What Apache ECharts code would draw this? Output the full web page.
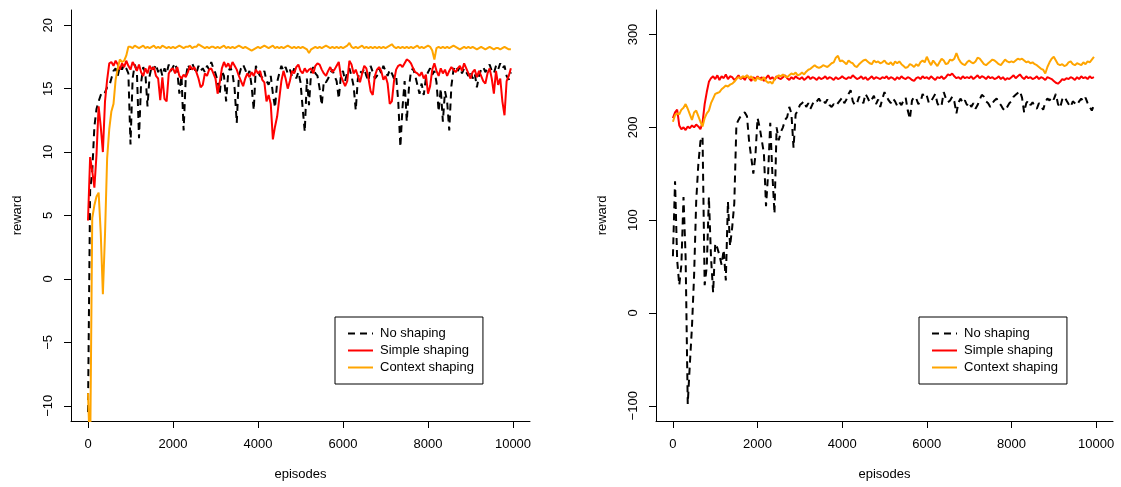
<!DOCTYPE html>
<html>
<head>
<meta charset="utf-8">
<script src="https://cdn.jsdelivr.net/npm/echarts@6/dist/echarts.min.js"></script>
<style>html,body{margin:0;padding:0;background:#fff;}#c{width:1121px;height:487px;}</style>
</head>
<body>
<div id="c"></div>
<script>
// x positions of the samples (episodes), every 50 episodes
const episodes = Array.from({length: 200}, (_, i) => i * 50);
const seriesNames = ['No shaping', 'Simple shaping', 'Context shaping'];
const xTicks = [0, 2000, 4000, 6000, 8000, 10000];
const yTicksLeft = [-10, -5, 0, 5, 10, 15, 20];
const yTicksRight = [-100, 0, 100, 200, 300];

// ---- left panel ----
const noShapingL = [
-10.5,7.0,8.5,12.0,13.4,14.0,14.5,14.8,14.7,15.1,15.2,15.8,16.4,16.6,16.0,16.8,16.5,16.9,16.6,16.2,
10.6,15.8,16.9,16.4,11.1,15.5,16.7,16.2,13.6,16.0,16.8,16.5,16.9,16.3,16.7,16.0,16.6,16.2,16.9,16.4,
16.7,17.0,16.4,14.6,16.0,11.7,15.8,16.9,16.5,17.0,16.6,16.2,16.8,16.4,16.6,16.3,16.8,16.5,17.1,16.6,
16.2,15.6,14.6,16.4,16.0,14.0,16.3,16.7,16.2,15.0,12.3,16.0,16.6,16.9,16.5,16.0,16.4,15.2,13.3,16.8,
16.3,16.0,15.9,16.4,15.6,15.3,16.0,14.6,13.5,15.5,16.2,16.8,16.4,16.7,16.2,16.5,16.0,16.6,15.8,16.3,
15.5,13.5,11.6,15.8,13.7,16.3,16.7,16.2,16.0,15.0,13.7,15.6,15.5,15.8,16.2,16.5,16.0,15.6,14.2,16.0,
16.4,15.6,16.3,16.6,16.0,15.2,13.3,15.8,16.4,16.2,16.6,16.0,15.6,16.8,16.3,15.8,16.0,16.6,16.2,16.8,
16.4,16.0,16.5,16.2,15.8,16.0,14.0,10.4,13.5,15.6,12.4,15.0,16.4,16.6,16.0,15.3,14.6,15.4,14.5,15.8,
16.3,16.6,16.1,16.4,15.5,13.2,15.0,12.4,14.8,14.0,11.7,15.2,16.5,16.8,16.4,16.7,16.2,16.6,16.3,16.0,
16.4,15.8,16.2,15.1,16.0,16.5,16.7,16.3,16.6,16.9,16.4,16.2,16.8,16.5,17.0,16.6,16.8,16.0,15.7,16.3];
const simpleL = [
4.6,9.6,8.5,7.2,9.8,13.6,12.0,10.0,14.0,15.7,17.0,17.1,16.8,17.2,16.9,16.5,17.0,16.7,17.2,16.8,
16.5,17.1,16.8,16.4,16.9,16.3,16.0,16.6,16.2,16.8,16.5,16.7,16.0,15.8,14.1,15.9,14.2,14.0,16.2,16.5,
16.6,16.2,16.7,16.0,15.8,16.1,15.9,16.3,16.8,16.5,16.7,16.3,15.8,15.1,15.3,16.2,16.0,16.5,16.6,16.2,
15.8,14.6,15.5,16.6,17.1,16.7,17.0,16.6,17.1,16.8,16.5,16.0,15.6,15.2,15.8,16.2,15.9,16.3,16.0,16.5,
16.2,16.4,15.7,15.5,14.0,14.5,13.8,11.0,12.0,12.8,14.2,15.6,16.4,15.8,15.0,15.6,16.4,16.2,16.7,16.9,
16.4,16.2,16.6,16.3,16.5,16.6,16.2,16.8,17.0,16.9,16.5,16.2,16.0,16.4,16.7,16.3,16.5,16.8,17.1,16.0,
15.6,15.2,15.6,17.2,16.9,16.2,16.5,16.0,15.5,16.2,16.8,16.6,15.8,14.8,14.5,16.0,16.5,16.7,16.4,15.7,
16.0,15.4,13.8,14.0,15.6,16.5,16.8,16.9,16.7,17.0,17.3,17.2,17.0,16.6,16.3,16.2,16.0,16.3,15.8,16.1,
14.6,15.2,16.5,17.0,16.4,16.0,16.6,16.2,16.5,16.0,16.4,16.7,16.5,16.3,16.6,16.8,16.4,17.0,16.6,16.2,
15.8,16.3,16.5,15.9,16.4,16.0,15.6,15.4,16.2,16.6,15.8,14.6,16.4,15.3,15.8,14.0,12.9,15.6,16.0,16.6];
const contextL = [
-9.0,-14.0,4.8,5.8,6.5,6.8,3.6,-1.2,3.5,9.5,11.8,13.2,13.8,15.7,16.6,17.3,17.1,17.2,17.6,18.3,
18.3,18.2,18.4,18.3,18.2,18.3,18.4,18.2,18.3,18.2,18.3,18.4,18.2,18.3,18.2,18.4,18.3,18.2,18.3,18.2,
18.3,18.2,18.3,18.4,18.3,18.2,18.3,18.3,18.4,18.2,18.3,18.3,18.5,18.4,18.3,18.2,18.3,18.2,18.3,18.3,
18.2,18.3,18.2,18.3,18.4,18.2,18.3,18.2,18.3,18.2,18.3,18.4,18.3,18.2,18.3,18.2,18.1,18.0,18.1,18.2,
18.3,18.2,18.3,18.4,18.3,18.2,18.3,18.4,18.2,18.3,18.2,18.3,18.2,18.3,18.4,18.3,18.2,18.3,18.2,18.3,
18.2,18.3,18.2,18.1,17.8,18.1,18.2,18.3,18.2,18.3,18.2,18.3,18.4,18.3,18.2,18.3,18.2,18.3,18.2,18.3,
18.2,18.3,18.4,18.6,18.3,18.2,18.3,18.2,18.3,18.4,18.2,18.3,18.2,18.3,18.2,18.3,18.2,18.3,18.2,18.3,
18.2,18.3,18.4,18.5,18.3,18.2,18.3,18.2,18.3,18.2,18.3,18.2,18.3,18.2,18.3,18.4,18.2,18.3,18.2,18.3,
18.4,18.3,18.0,17.3,18.2,18.3,18.2,18.3,18.2,18.3,18.2,18.3,18.4,18.3,18.2,18.1,18.2,18.3,18.2,18.3,
18.2,18.3,18.2,18.1,18.2,18.3,18.2,18.1,18.2,18.3,18.2,18.1,18.2,18.2,18.1,18.2,18.3,18.2,18.1,18.1];

// ---- right panel ----
const noShapingR = [
61,142,57,30,52,125,60,-98,-55,-15,40,120,160,185,190,30,50,125,60,22,
75,70,62,52,68,35,120,72,92,118,203,208,212,215,216,212,185,168,150,170,
210,200,186,172,115,150,205,150,107,200,186,195,200,208,211,222,215,178,214,218,
224,226,228,222,226,220,225,229,228,231,227,229,226,230,224,222,225,223,226,229,
232,226,230,236,240,228,224,226,233,230,226,236,232,227,230,234,225,230,222,231,
238,233,229,226,231,228,223,227,224,229,232,218,209,229,233,231,225,227,236,232,
234,226,228,232,236,226,222,224,238,231,227,229,233,228,215,227,231,226,229,224,
227,222,226,220,224,230,235,233,228,226,222,226,229,231,227,224,220,218,222,226,
228,233,235,237,239,232,216,226,229,224,227,222,220,226,223,219,227,231,229,233,
230,236,225,221,230,233,229,225,222,228,226,224,228,231,228,232,226,222,218,224];
const simpleR = [
210,216,219,202,198,200,197,201,199,202,200,203,201,198,205,225,238,249,253,255,
252,256,251,255,253,257,252,255,254,251,253,256,252,254,251,256,253,250,254,252,
255,252,254,250,253,256,252,254,251,255,253,252,254,256,253,251,254,252,255,253,
252,254,251,253,255,252,254,253,251,254,252,253,255,252,254,253,251,254,252,253,
255,253,252,254,253,256,254,252,253,255,252,254,251,253,255,252,254,253,252,254,
253,255,252,254,253,251,254,252,255,253,252,254,253,251,250,253,254,252,255,253,
254,252,255,253,251,254,253,255,252,254,257,256,258,255,253,254,252,255,253,254,
253,255,252,254,256,253,255,254,252,255,253,254,252,253,255,252,254,251,253,252,
254,256,253,255,257,254,252,255,253,254,252,253,255,252,254,253,251,254,253,252,
250,248,247,249,252,251,253,252,254,253,251,254,252,255,253,254,252,255,253,254];
const contextR = [
206,213,215,214,219,221,225,220,214,208,216,218,212,206,201,210,215,218,226,231,
236,237,238,241,243,245,244,246,247,249,252,254,253,255,254,256,253,255,252,250,
254,252,251,254,250,248,249,247,252,254,256,255,257,255,254,256,258,257,259,256,
257,259,257,260,262,263,265,267,265,264,265,267,266,265,267,269,270,275,277,271,
272,270,268,272,270,269,266,265,268,270,272,273,271,269,268,272,270,271,269,270,
272,269,268,270,267,271,269,271,268,266,264,265,268,267,265,268,266,270,272,270,
276,271,267,272,269,266,270,274,272,268,269,273,272,274,280,274,270,268,267,270,
272,270,269,271,275,274,271,268,267,269,271,273,272,270,268,267,270,273,271,270,
271,270,272,274,273,274,272,270,271,269,270,268,267,265,263,262,258,265,270,274,
276,272,268,267,268,266,267,270,271,268,267,269,268,267,270,268,271,270,273,276];

const FONT = '"Liberation Sans", Arial, Helvetica, sans-serif';
const minus = v => String(v).replace('-', '\u2212');
const pair = arr => episodes.map((e, i) => [e, arr[i]]);

function xAxis(gridIndex) {
  return {
    type: 'value', gridIndex, min: -400, max: 10400,
    name: 'episodes', nameLocation: 'middle', nameGap: 47,
    nameTextStyle: {color: '#000', fontSize: 13, fontFamily: FONT},
    axisLine: {show: true, onZero: false, lineStyle: {color: '#000', width: 1}},
    axisTick: {show: true, length: 7, customValues: xTicks, lineStyle: {color: '#000'}},
    axisLabel: {show: true, customValues: xTicks, margin: 17, color: '#000', fontSize: 13, fontFamily: FONT, formatter: v => String(v)},
    splitLine: {show: false}
  };
}
function yAxis(gridIndex, min, max, ticks) {
  return {
    type: 'value', gridIndex, min, max,
    name: 'reward', nameLocation: 'middle', nameGap: 47, nameRotate: 90,
    nameTextStyle: {color: '#000', fontSize: 13, fontFamily: FONT},
    axisLine: {show: true, onZero: false, lineStyle: {color: '#000', width: 1}},
    axisTick: {show: true, length: 7, customValues: ticks, lineStyle: {color: '#000'}},
    axisLabel: {show: true, customValues: ticks, rotate: 90, margin: 16, color: '#000', fontSize: 13, fontFamily: FONT, formatter: minus},
    splitLine: {show: false}
  };
}
const colors = ['#000000', '#ff0000', '#ffa500'];
function lineSeries(name, idx, data, ci) {
  return {
    type: 'line', name, xAxisIndex: idx, yAxisIndex: idx,
    data: pair(data), showSymbol: false, symbol: 'none', clip: true,
    lineStyle: {color: colors[ci], width: 2, type: ci === 0 ? [7, 5] : 'solid'},
    itemStyle: {color: colors[ci]},
    emphasis: {disabled: true}, animation: false
  };
}
function legend(left) {
  return {
    left, top: 317, orient: 'vertical', data: seriesNames,
    itemWidth: 25, itemHeight: 14, itemGap: 2,
    itemStyle: {opacity: 0},
    padding: [9, 9, 9, 12], borderColor: '#000', borderWidth: 1, borderRadius: 0,
    backgroundColor: '#fff',
    textStyle: {color: '#000', fontSize: 13, fontFamily: FONT, padding: [0, 0, 0, 2], lineHeight: 15},
    selectedMode: false
  };
}

const chart = echarts.init(document.getElementById('c'), null, {renderer: 'canvas'});
chart.setOption({
  backgroundColor: '#fff',
  animation: false,
  grid: [
    {left: 71, top: 10, width: 459, height: 411},
    {left: 656, top: 10, width: 457, height: 411}
  ],
  xAxis: [xAxis(0), xAxis(1)],
  yAxis: [yAxis(0, -11.2, 21.2, yTicksLeft), yAxis(1, -116.4, 326.4, yTicksRight)],
  legend: [legend(335), legend(919)],
  series: [
    lineSeries(seriesNames[0], 0, noShapingL, 0),
    lineSeries(seriesNames[1], 0, simpleL, 1),
    lineSeries(seriesNames[2], 0, contextL, 2),
    lineSeries(seriesNames[0], 1, noShapingR, 0),
    lineSeries(seriesNames[1], 1, simpleR, 1),
    lineSeries(seriesNames[2], 1, contextR, 2)
  ]
});
</script>
</body>
</html>
